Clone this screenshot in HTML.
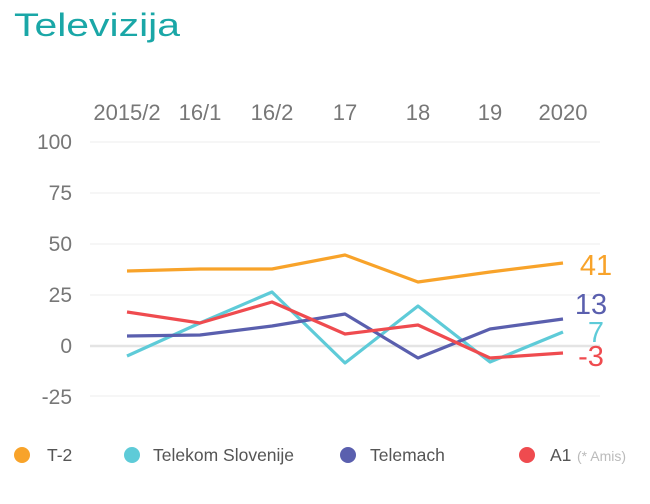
<!DOCTYPE html>
<html><head><style>
body{margin:0;background:#fff;width:650px;height:499px;overflow:hidden;font-family:"Liberation Sans",sans-serif}
</style></head><body>
<svg width="650" height="499" xmlns="http://www.w3.org/2000/svg" font-family="Liberation Sans, sans-serif">
<text x="14" y="36" font-size="32" fill="#1aa7a7" textLength="166" lengthAdjust="spacingAndGlyphs">Televizija</text>
<g font-size="22" fill="#777" text-anchor="middle">
<text x="127" y="120">2015/2</text><text x="200" y="120">16/1</text><text x="272" y="120">16/2</text>
<text x="345" y="120">17</text><text x="418" y="120">18</text><text x="490" y="120">19</text><text x="563" y="120">2020</text>
</g>
<g font-size="21" fill="#777" text-anchor="end">
<text x="72" y="149">100</text><text x="72" y="200">75</text><text x="72" y="251">50</text>
<text x="72" y="302">25</text><text x="72" y="353">0</text><text x="72" y="404">-25</text>
</g>
<g stroke="#f3f3f3" stroke-width="1.5">
<line x1="90" x2="600" y1="142" y2="142"/><line x1="90" x2="600" y1="193" y2="193"/>
<line x1="90" x2="600" y1="244" y2="244"/><line x1="90" x2="600" y1="295" y2="295"/>
<line x1="90" x2="600" y1="396" y2="396"/>
</g>
<line x1="90" x2="600" y1="346" y2="346" stroke="#e4e4e4" stroke-width="2.5"/>
<g fill="none" stroke-width="3.2" stroke-linejoin="round">
<polyline stroke="#5ecbd8" points="127,356 200,323 272,292 345,363 418,306 490,362 563,332"/>
<polyline stroke="#5a5fae" points="127,336 200,335 272,326 345,314 418,358 490,329 563,319"/>
<polyline stroke="#ef4b4f" points="127,312 200,323 272,302 345,334 418,325 490,358 563,353"/>
<polyline stroke="#f8a32a" points="127,271 200,269 272,269 345,255 418,282 490,272 563,263"/>
</g>
<g font-size="29" text-anchor="middle">
<text x="596" y="275" fill="#f8a32a">41</text>
<text x="591" y="314" fill="#5a5fae">13</text>
<text x="596" y="342" fill="#5ecbd8">7</text>
<text x="591" y="366" fill="#ef4b4f">-3</text>
</g>
<g font-size="17.5" fill="#555">
<circle cx="22" cy="455" r="8" fill="#f8a32a"/><text x="47" y="461">T-2</text>
<circle cx="132" cy="455" r="8" fill="#5ecbd8"/><text x="153" y="461">Telekom Slovenije</text>
<circle cx="348" cy="455" r="8" fill="#5a5fae"/><text x="370" y="461">Telemach</text>
<circle cx="527" cy="455" r="8" fill="#ef4b4f"/><text x="550" y="461">A1</text>
<text x="577" y="461" font-size="14" fill="#bbb">(* Amis)</text>
</g>
</svg>
</body></html>
